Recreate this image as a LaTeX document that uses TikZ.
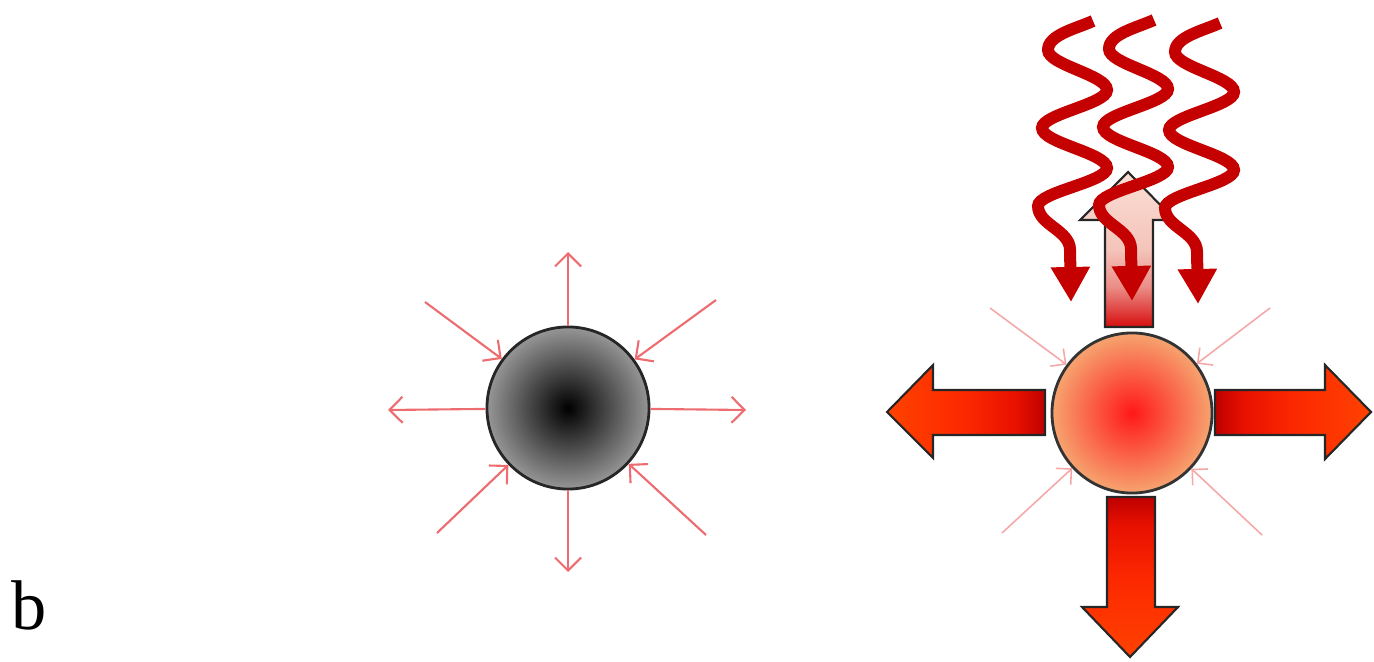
\documentclass[tikz,border=0pt]{standalone}
\usepackage{fontspec}
\setmainfont{Liberation Serif}
\usetikzlibrary{arrows.meta}
\definecolor{thinred}{RGB}{236,108,112}
\definecolor{thinpink}{RGB}{244,168,168}
\definecolor{wavered}{RGB}{196,0,0}
\definecolor{darkred}{RGB}{190,0,0}
\definecolor{orangered2}{RGB}{255,66,0}
\definecolor{midred}{RGB}{252,40,0}
\definecolor{redb}{RGB}{232,16,0}
\definecolor{palepink}{RGB}{250,222,212}
\definecolor{pinkmid}{RGB}{244,196,186}
\definecolor{upred}{RGB}{214,14,14}
\definecolor{ballin}{RGB}{255,24,24}
\definecolor{ballout}{RGB}{246,164,112}
\definecolor{grayout}{RGB}{150,150,150}
% orange at the far end, dark red near the sphere (left -> right)
\pgfdeclarehorizontalshading{blkshade}{100bp}{color(0bp)=(orangered2); color(25bp)=(orangered2); color(50bp)=(midred); color(66bp)=(redb); color(75bp)=(darkred); color(100bp)=(darkred)}
% pale at the tip, red near the sphere (left -> right)
\pgfdeclarehorizontalshading{upshade}{100bp}{color(0bp)=(palepink); color(25bp)=(palepink); color(50bp)=(pinkmid); color(62bp)=(pinkmid!70!upred); color(75bp)=(upred); color(100bp)=(upred)}
\tikzset{
  thinarr/.style={draw=thinred, line width=0.6pt, -{Straight Barb[length=0.13cm,width=0.26cm]}},
  thinarrb/.style={draw=thinpink, line width=0.45pt, -{Straight Barb[length=0.11cm,width=0.22cm]}},
  blockarr/.style={draw=black!85, line width=0.6pt},
  wavestyle/.style={draw=wavered, line width=0.12cm, -{Triangle[width=0.37cm,length=0.35cm]}},
}
\newcommand{\wavepath}{%
  (1093,21) .. controls (1075,29) and (1048,35) .. (1048,50)
  .. controls (1048,65) and (1107,75) .. (1107,90)
  .. controls (1107,104) and (1042,114) .. (1042,128)
  .. controls (1042,143) and (1107,153) .. (1107,168)
  .. controls (1107,182) and (1038,192) .. (1038,206)
  .. controls (1038,225) and (1070,230) .. (1070,250)
  -- (1071,302)}
\begin{document}
\begin{tikzpicture}[x=0.01cm,y=-0.01cm]
\path[use as bounding box] (0,0) rectangle (1374,661);

% label
\node[anchor=base west, inner sep=0pt, font=\fontsize{20}{24}\selectfont] (lab) at (11,629) {b};

% ---------- left sphere ----------
\node[circle, draw=black!85, line width=0.8pt, minimum size=1.62cm, inner sep=0pt,
      inner color=black, outer color=grayout] (c1) at (568,408) {};
\coordinate (lu) at (568,252);
\coordinate (ld) at (568,572);
\coordinate (ll) at (388,410);
\coordinate (lr) at (746,410);
\coordinate (lul) at (425,302);
\coordinate (lur) at (716,300);
\coordinate (lll) at (437,533);
\coordinate (llr) at (706,535);
\draw[thinarr] (c1) -- (lu);
\draw[thinarr] (c1) -- (ld);
\draw[thinarr] (c1) -- (ll);
\draw[thinarr] (c1) -- (lr);
\draw[thinarr] (lul) -- (c1);
\draw[thinarr] (lur) -- (c1);
\draw[thinarr] (lll) -- (c1);
\draw[thinarr] (llr) -- (c1);

% ---------- right sphere ----------
\node[circle, draw=black!80, line width=0.8pt, minimum size=1.6cm, inner sep=0pt,
      inner color=ballin, outer color=ballout] (c2) at (1132,413) {};
\coordinate (rul) at (990,308);
\coordinate (rur) at (1270,308);
\coordinate (rll) at (1002,533);
\coordinate (rlr) at (1262,535);
\draw[thinarrb] (rul) -- (c2);
\draw[thinarrb] (rur) -- (c2);
\draw[thinarrb] (rll) -- (c2);
\draw[thinarrb] (rlr) -- (c2);

% block arrows
\shade[blockarr, shading=blkshade]
  (1045,390) -- (1045,435) -- (933,435) -- (933,458) -- (887,412) -- (933,365) -- (933,390) -- cycle;
\shade[blockarr, shading=blkshade, shading angle=180]
  (1215,390) -- (1325,390) -- (1325,365) -- (1371,412) -- (1325,459) -- (1325,435) -- (1215,435) -- cycle;
\shade[blockarr, shading=blkshade, shading angle=90]
  (1107,497) -- (1155,497) -- (1155,607) -- (1178,607) -- (1130,657) -- (1082,607) -- (1107,607) -- cycle;
\shade[blockarr, shading=upshade, shading angle=-90]
  (1105,327) -- (1105,220) -- (1080,220) -- (1128,172) -- (1175,220) -- (1153,220) -- (1153,327) -- cycle;

% waves
\draw[wavestyle] \wavepath;
\begin{scope}[shift={(61,-1)}]
\draw[wavestyle] \wavepath;
\end{scope}
\begin{scope}[shift={(127,2)}]
\draw[wavestyle] \wavepath;
\end{scope}
\end{tikzpicture}
\end{document}
